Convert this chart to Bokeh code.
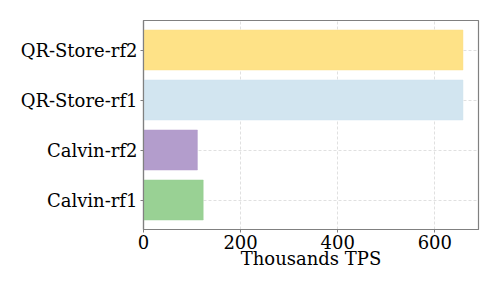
from bokeh.plotting import figure
from bokeh.embed import file_html
from bokeh.resources import INLINE
from bokeh.models import ColumnDataSource, Range1d, FixedTicker

categories = ["Calvin-rf1", "Calvin-rf2", "QR-Store-rf1", "QR-Store-rf2"]
values = [123, 111, 658, 658]
colors = ["#99d194", "#b39dcc", "#d2e5f0", "#fee287"]
x_ticks = [0, 200, 400, 600]

ypos = list(range(len(categories)))
src = ColumnDataSource(dict(y=ypos, v=values, c=colors))

p = figure(output_backend="svg", toolbar_location=None,
           frame_width=335, frame_height=209,
           x_range=Range1d(0, 690), y_range=Range1d(-0.59, 3.59))
p.min_border_left = 143
p.min_border_right = 12
p.min_border_top = 20
p.min_border_bottom = 54
p.background_fill_color = "white"
p.border_fill_color = "white"

p.hbar(y="y", right="v", left=0, height=0.8, fill_color="c", line_color="c",
       line_alpha=0.5, source=src)

p.outline_line_color = "#808080"
p.outline_line_width = 1.2

for ax in (p.xaxis[0], p.yaxis[0]):
    ax.axis_line_color = "#808080"
    ax.axis_line_width = 1.2
    ax.major_tick_out = 3
    ax.major_tick_in = 0
    ax.minor_tick_out = 0
    ax.minor_tick_in = 0
    ax.major_tick_line_color = "#808080"
    ax.major_label_text_font = "DejaVu Serif"
    ax.major_label_text_font_size = "18px"
    ax.major_label_text_color = "black"

p.xaxis.ticker = FixedTicker(ticks=x_ticks)
p.yaxis.ticker = FixedTicker(ticks=ypos)
p.yaxis.major_label_overrides = {i: c for i, c in enumerate(categories)}
p.xaxis.axis_label = "Thousands TPS"
p.xaxis.axis_label_text_font = "DejaVu Serif"
p.xaxis.axis_label_text_font_size = "18px"
p.xaxis.axis_label_text_font_style = "normal"
p.xaxis.axis_label_text_color = "black"
p.xaxis.axis_label_standoff = -4
p.xaxis.major_label_standoff = 2
p.yaxis.major_label_standoff = 3

p.xgrid.grid_line_color = "#e0e0e0"
p.ygrid.grid_line_color = "#e0e0e0"
p.xgrid.grid_line_dash = "3 2"
p.ygrid.grid_line_dash = "3 2"

open("out.html", "w").write(file_html(p, INLINE))
